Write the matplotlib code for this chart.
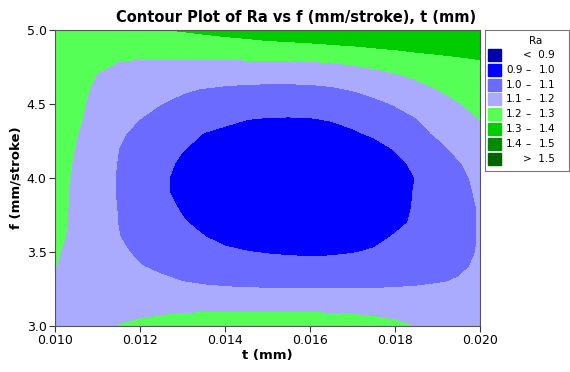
"""Contour plot of Ra vs f (mm/stroke) and t (mm)."""
import matplotlib
matplotlib.use("Agg")
import matplotlib.pyplot as plt
from matplotlib.patches import Rectangle
import numpy as np

# grid
t_vals = [0.0100, 0.0105, 0.0110, 0.0115, 0.0120, 0.0125, 0.0130, 0.0135, 0.0140, 0.0145, 0.0150,
          0.0155, 0.0160, 0.0165, 0.0170, 0.0175, 0.0180, 0.0185, 0.0190, 0.0195, 0.0200]
f_vals = [3.0, 3.1, 3.2, 3.3, 3.4, 3.5, 3.6, 3.7, 3.8, 3.9, 4.0,
          4.1, 4.2, 4.3, 4.4, 4.5, 4.6, 4.7, 4.8, 4.9, 5.0]

# rows: f from 3.0 up to 5.0, columns: t from 0.010 to 0.020
ra_grid = [
    [1.150, 1.160, 1.175, 1.202, 1.215, 1.225, 1.232, 1.237, 1.240, 1.242, 1.243, 1.243, 1.242, 1.240, 1.235, 1.228, 1.215, 1.198, 1.180, 1.165, 1.155],
    [1.165, 1.165, 1.168, 1.175, 1.183, 1.190, 1.194, 1.196, 1.197, 1.197, 1.196, 1.195, 1.195, 1.194, 1.190, 1.185, 1.178, 1.168, 1.160, 1.152, 1.148],
    [1.180, 1.175, 1.168, 1.160, 1.153, 1.146, 1.140, 1.136, 1.133, 1.131, 1.130, 1.130, 1.129, 1.128, 1.128, 1.128, 1.130, 1.132, 1.135, 1.140, 1.143],
    [1.190, 1.175, 1.160, 1.145, 1.130, 1.115, 1.100, 1.090, 1.083, 1.078, 1.076, 1.075, 1.074, 1.073, 1.074, 1.076, 1.080, 1.086, 1.095, 1.105, 1.118],
    [1.202, 1.175, 1.150, 1.125, 1.104, 1.085, 1.070, 1.057, 1.047, 1.039, 1.034, 1.030, 1.028, 1.028, 1.030, 1.035, 1.043, 1.055, 1.070, 1.090, 1.110],
    [1.210, 1.170, 1.145, 1.115, 1.085, 1.060, 1.040, 1.022, 1.010, 1.002, 0.995, 0.990, 0.988, 0.990, 0.997, 1.006, 1.020, 1.035, 1.055, 1.080, 1.105],
    [1.225, 1.175, 1.140, 1.102, 1.070, 1.042, 1.020, 1.002, 0.985, 0.972, 0.965, 0.963, 0.962, 0.963, 0.967, 0.985, 1.005, 1.025, 1.050, 1.075, 1.105],
    [1.235, 1.175, 1.135, 1.098, 1.062, 1.030, 1.005, 0.985, 0.970, 0.958, 0.950, 0.947, 0.946, 0.947, 0.952, 0.962, 0.985, 1.010, 1.040, 1.072, 1.105],
    [1.240, 1.175, 1.130, 1.097, 1.060, 1.022, 0.993, 0.972, 0.958, 0.946, 0.940, 0.937, 0.936, 0.937, 0.942, 0.952, 0.972, 1.008, 1.040, 1.075, 1.105],
    [1.250, 1.170, 1.125, 1.095, 1.055, 1.010, 0.985, 0.965, 0.950, 0.940, 0.933, 0.930, 0.930, 0.933, 0.940, 0.955, 0.975, 1.005, 1.040, 1.080, 1.110],
    [1.260, 1.175, 1.125, 1.095, 1.055, 1.010, 0.983, 0.963, 0.948, 0.938, 0.932, 0.930, 0.930, 0.932, 0.938, 0.952, 0.972, 1.002, 1.040, 1.085, 1.115],
    [1.260, 1.185, 1.127, 1.097, 1.060, 1.018, 0.990, 0.970, 0.955, 0.945, 0.938, 0.935, 0.935, 0.938, 0.945, 0.960, 0.982, 1.015, 1.055, 1.095, 1.130],
    [1.262, 1.195, 1.130, 1.100, 1.068, 1.035, 1.003, 0.985, 0.968, 0.957, 0.949, 0.945, 0.945, 0.948, 0.957, 0.975, 1.005, 1.040, 1.080, 1.120, 1.155],
    [1.265, 1.205, 1.145, 1.110, 1.080, 1.053, 1.030, 0.998, 0.985, 0.975, 0.968, 0.965, 0.966, 0.975, 0.990, 1.010, 1.040, 1.075, 1.110, 1.150, 1.180],
    [1.268, 1.215, 1.165, 1.130, 1.100, 1.073, 1.050, 1.030, 1.015, 1.002, 0.996, 0.995, 0.997, 1.005, 1.020, 1.040, 1.068, 1.098, 1.130, 1.165, 1.202],
    [1.270, 1.220, 1.175, 1.145, 1.120, 1.100, 1.083, 1.070, 1.058, 1.047, 1.040, 1.035, 1.035, 1.040, 1.052, 1.080, 1.105, 1.130, 1.160, 1.195, 1.230],
    [1.272, 1.225, 1.185, 1.160, 1.140, 1.123, 1.108, 1.097, 1.088, 1.082, 1.080, 1.080, 1.082, 1.090, 1.105, 1.125, 1.150, 1.175, 1.200, 1.230, 1.260],
    [1.275, 1.240, 1.198, 1.180, 1.167, 1.157, 1.150, 1.145, 1.140, 1.137, 1.135, 1.135, 1.137, 1.145, 1.157, 1.175, 1.195, 1.215, 1.240, 1.265, 1.280],
    [1.278, 1.255, 1.225, 1.203, 1.199, 1.198, 1.198, 1.199, 1.200, 1.202, 1.203, 1.205, 1.208, 1.215, 1.225, 1.240, 1.255, 1.270, 1.280, 1.290, 1.300],
    [1.280, 1.270, 1.255, 1.250, 1.250, 1.252, 1.256, 1.262, 1.268, 1.274, 1.280, 1.285, 1.290, 1.298, 1.305, 1.315, 1.322, 1.330, 1.336, 1.342, 1.348],
    [1.285, 1.285, 1.287, 1.290, 1.293, 1.298, 1.305, 1.315, 1.325, 1.335, 1.348, 1.356, 1.365, 1.370, 1.375, 1.378, 1.382, 1.385, 1.388, 1.390, 1.392],
]

levels = [0.0, 0.9, 1.0, 1.1, 1.2, 1.3, 1.4, 1.5, 9.0]
colors = ["#0000A8", "#0000FF", "#6B6BFF", "#AAAAFF",
          "#55FF55", "#00CC00", "#008A00", "#006400"]
labels_lo = ["", "0.9", "1.0", "1.1", "1.2", "1.3", "1.4", ""]
labels_hi = ["<  0.9", "1.0", "1.1", "1.2", "1.3", "1.4", "1.5", ">  1.5"]


def main() -> None:
    fig = plt.figure(figsize=(5.7, 3.72), dpi=100)
    ax = fig.add_axes([55 / 570, 1 - 326 / 372, 425 / 570, 296 / 372])

    T, F = np.meshgrid(t_vals, f_vals)
    ax.contourf(T, F, np.array(ra_grid), levels=levels, colors=colors)

    ax.set_xlim(0.010, 0.020)
    ax.set_ylim(3.0, 5.0)
    ax.set_xticks([0.010, 0.012, 0.014, 0.016, 0.018, 0.020])
    ax.set_yticks([3.0, 3.5, 4.0, 4.5, 5.0])
    ax.xaxis.set_major_formatter(plt.FormatStrFormatter("%.3f"))
    ax.yaxis.set_major_formatter(plt.FormatStrFormatter("%.1f"))
    ax.tick_params(labelsize=9, length=4, width=0.8, color="#333333", pad=2)
    for s in ax.spines.values():
        s.set_color("#555555")
        s.set_linewidth(0.8)
    ax.set_xlabel("t (mm)", fontsize=9.5, fontweight="bold", labelpad=1)
    ax.set_ylabel("f (mm/stroke)", fontsize=9.5, fontweight="bold", labelpad=3)
    fig.text(296 / 570, 1 - 17 / 372, "Contour Plot of Ra vs f (mm/stroke), t (mm)",
             ha="center", va="center", fontsize=10.5, fontweight="bold")

    # legend box drawn by hand, Minitab style
    lg = fig.add_axes([485 / 570, 1 - 171 / 372, 84 / 570, 141 / 372])
    lg.set_xlim(0, 84)
    lg.set_ylim(141, 0)
    lg.set_xticks([])
    lg.set_yticks([])
    for s in lg.spines.values():
        s.set_color("#777777")
        s.set_linewidth(0.8)
    lg.text(51, 11, "Ra", ha="center", va="center", fontsize=7.5)
    for i, c in enumerate(colors):
        y = 25 + i * 14.8
        lg.add_patch(Rectangle((3, y - 6), 13, 12, color=c))
        if labels_lo[i]:
            lg.text(21, y, labels_lo[i], ha="left", va="center", fontsize=7.5)
            lg.text(43, y, "\u2013", ha="center", va="center", fontsize=7.5)
        lg.text(70, y, labels_hi[i], ha="right", va="center", fontsize=7.5)

    fig.savefig("out.png", dpi=100)


if __name__ == "__main__":
    main()
